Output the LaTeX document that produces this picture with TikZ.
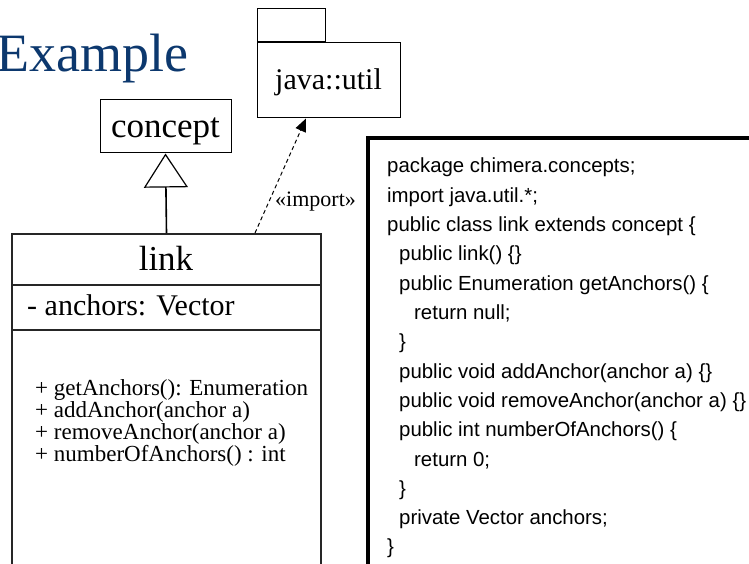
\documentclass[tikz,border=0pt]{standalone}
\usepackage{fontspec}
\setmainfont{Liberation Serif}
\newfontfamily\codefont{Liberation Sans}
\usetikzlibrary{arrows.meta}
\definecolor{titleblue}{RGB}{12,56,110}
\begin{document}
\begin{tikzpicture}[x=1pt,y=-1pt,
  box/.style={draw, line width=1pt, inner sep=0pt},
  umltext/.style={anchor=base, inner sep=0pt},
  optext/.style={anchor=base west, inner sep=0pt, font=\fontsize{23}{23}\selectfont},
  codeline/.style={anchor=base west, inner sep=0pt, font=\codefont\fontsize{20.4}{24}\selectfont}]
\useasboundingbox (0,0) rectangle (749,564);
\clip (0,0) rectangle (749,564);

% title
\node[anchor=base west, inner sep=0pt, text=titleblue, font=\fontsize{54}{54}\selectfont] (title) at (-4,72) {Example};

% package java::util
\node[box, minimum width=143pt, minimum height=75pt] (pkg) at (328.5,80.5) {};
\node[box, minimum width=68pt, minimum height=33pt, anchor=south west] (tab) at (pkg.north west) {};
\node[umltext, font=\fontsize{30}{30}\selectfont] (pkgT) at (328.5,90) {java::util};

% concept
\node[box, minimum width=131pt, minimum height=53pt] (concept) at (165.5,126.5) {};
\node[umltext, font=\fontsize{35}{35}\selectfont] (conceptT) at (165.5,138) {concept};

% link class box
\node[draw, line width=1.6pt, draw=black!85, inner sep=0pt, minimum width=309pt, minimum height=400pt, anchor=north] (link) at (166.5,233) {};
\draw[line width=1.5pt, draw=black!85] (12,285) -- (321,285) (12,330) -- (321,330);
\node[umltext, font=\fontsize{35}{35}\selectfont] (linkT) at (166,270) {link};
\node[anchor=base west, inner sep=0pt, font=\fontsize{30}{30}\selectfont] (attr) at (27,315) {- anchors: Vector};
\node[optext] (op1) at (35,395) {+ getAnchors(): Enumeration};
\node[optext] (op2) at (35,417.3) {+ addAnchor(anchor a)};
\node[optext] (op3) at (35,439.6) {+ removeAnchor(anchor a)};
\node[optext] (op4) at (35,461.9) {+ numberOfAnchors() : int};

% generalization
\draw[line width=1.6pt, -{Triangle[open, length=34pt, width=44pt, line width=1.2pt]}] (link.north) -- (concept.south);

% import dependency
\coordinate (impStart) at (255,233);
\draw[line width=1pt, dash pattern=on 4pt off 3pt, -{Triangle[length=13pt, width=11pt]}] (impStart) -- ([xshift=-22.5pt]pkg.south);
\node[anchor=base west, inner sep=0pt, font=\fontsize{22}{22}\selectfont] (impL) at (275,207) {«import»};

% code box
\node[draw, line width=4pt, inner sep=0pt, minimum width=450pt, minimum height=500pt, anchor=north west] (code) at (366,136) {};
\node[codeline] (c1) at (387,173) {package chimera.concepts;};
\node[codeline] (c2) at (387,202.3) {import java.util.*;};
\node[codeline] (c3) at (387,231.6) {public class link extends concept \{};
\node[codeline] (c4) at (399,260.9) {public link() \{\}};
\node[codeline] (c5) at (399,290.2) {public Enumeration getAnchors() \{};
\node[codeline] (c6) at (414,319.5) {return null;};
\node[codeline] (c7) at (399,348.8) {\}};
\node[codeline] (c8) at (399,378.1) {public void addAnchor(anchor a) \{\}};
\node[codeline] (c9) at (399,407.4) {public void removeAnchor(anchor a) \{\}};
\node[codeline] (c10) at (399,436.7) {public int numberOfAnchors() \{};
\node[codeline] (c11) at (414,466) {return 0;};
\node[codeline] (c12) at (399,495.3) {\}};
\node[codeline] (c13) at (399,524.6) {private Vector anchors;};
\node[codeline] (c14) at (387,553.9) {\}};
\end{tikzpicture}
\end{document}
